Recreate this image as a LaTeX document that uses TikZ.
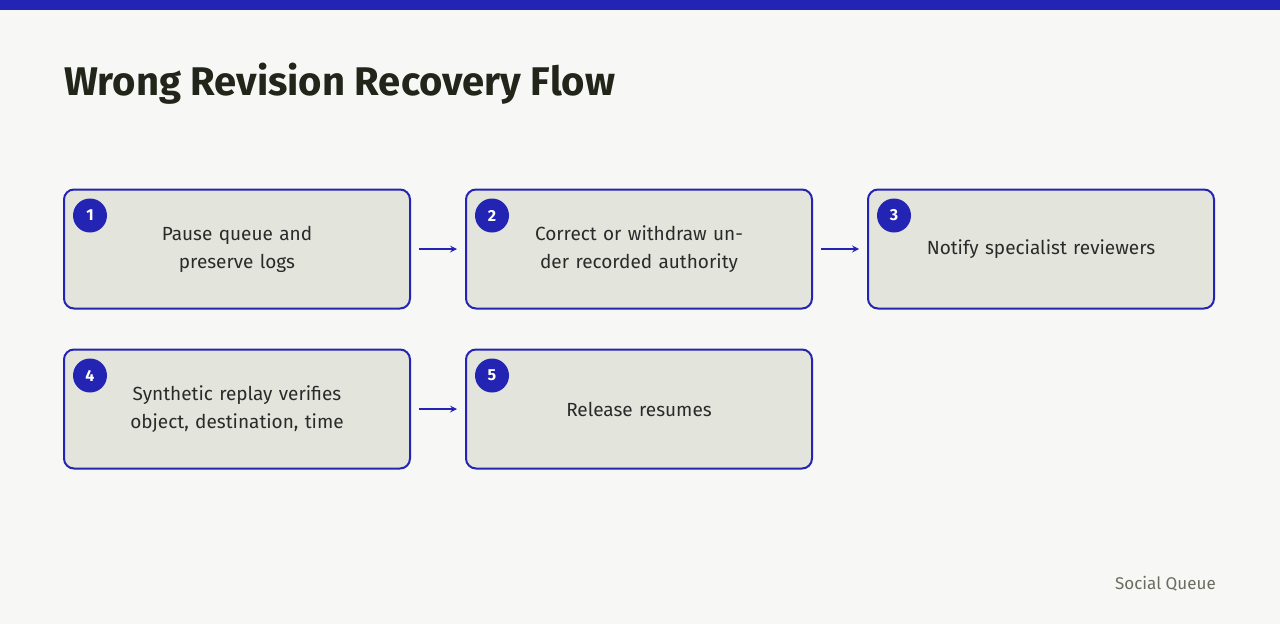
\documentclass[tikz,border=0pt]{standalone}
\usepackage{fontspec}
\setmainfont{Fira Sans}
\usetikzlibrary{positioning}
\definecolor{ink}{HTML}{2323B4}
\definecolor{paper}{HTML}{F7F7F5}
\definecolor{boxfill}{HTML}{E3E5DC}
\definecolor{titleink}{HTML}{22251A}
\definecolor{textink}{HTML}{2A2A2A}
\definecolor{muted}{HTML}{6B6B60}
\tikzset{
 stage/.style={draw=ink,line width=2pt,fill=boxfill,rounded corners=10pt,
  minimum width=346pt,minimum height=119pt,align=center,text width=270pt,
  font=\fontsize{19}{28}\selectfont,text=textink},
 badge/.style={circle,fill=ink,minimum size=34pt,inner sep=0pt,text=white,
  font=\fontsize{16}{16}\selectfont\bfseries},
 flow/.style={->,draw=ink,line width=2pt,>=stealth}
}
\begin{document}
\begin{tikzpicture}[x=1pt,y=-1pt]
 \fill[paper] (0,0) rectangle (1280,624);
 \fill[ink] (0,0) rectangle (1280,10);
 \node[anchor=base west,inner sep=0pt,text=titleink,font=\fontsize{40}{40}\selectfont\bfseries] (title) at (64,95) {Wrong Revision Recovery Flow};
 % stages
 \node[stage] (s1) at (237,249) {Pause queue and preserve logs};
 \node[stage] (s2) at (639,249) {Correct or withdraw under recorded authority};
 \node[stage] (s3) at (1041,249) {Notify specialist reviewers};
 \node[stage] (s4) at (237,409) {Synthetic replay verifies object, destination, time};
 \node[stage] (s5) at (639,409) {Release resumes};
 \foreach \n in {1,...,5}
  \node[badge] (b\n) at ([xshift=27pt,yshift=-27pt]s\n.north west) {\n};
 \draw[flow] ([xshift=8pt]s1.east) -- ([xshift=-8pt]s2.west);
 \draw[flow] ([xshift=8pt]s2.east) -- ([xshift=-8pt]s3.west);
 \draw[flow] ([xshift=8pt]s4.east) -- ([xshift=-8pt]s5.west);
 \node[anchor=base east,inner sep=0pt,text=muted,font=\fontsize{17}{17}\selectfont] (brand) at (1216,589) {Social Queue};
\end{tikzpicture}
\end{document}
